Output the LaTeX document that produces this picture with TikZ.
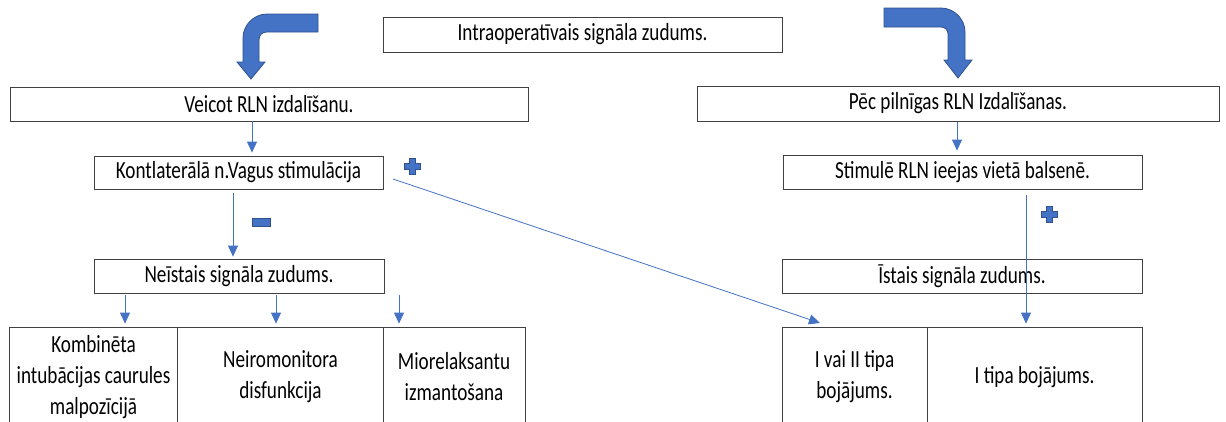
\documentclass[tikz,border=0pt]{standalone}
\usepackage{fontspec}
\setmainfont{Carlito}[FakeStretch=0.78]
\usetikzlibrary{arrows.meta,calc}
\definecolor{accentblue}{HTML}{4472C4}
\definecolor{darkblue}{HTML}{2F528F}
\begin{document}
\begin{tikzpicture}[x=1pt,y=-1pt,
  box/.style={draw=black!75, line width=0.8pt, fill=white, inner sep=0pt,
    font=\fontsize{24.6}{31}\selectfont, align=center},
  conn/.style={draw=accentblue, line width=0.8pt, -{Triangle[width=10pt,length=11pt]}},
  signfill/.style={fill=accentblue, draw=darkblue, line width=0.6pt},
  bent/.style={fill=accentblue, draw=darkblue, line width=0.8pt},
  plussign/.pic={\filldraw[signfill] (-3,-8) -- (3,-8) -- (3,-3) -- (8,-3) -- (8,3) -- (3,3) -- (3,8) -- (-3,8) -- (-3,3) -- (-8,3) -- (-8,-3) -- (-3,-3) -- cycle;},
  minussign/.pic={\filldraw[signfill] (-9,-4) rectangle (9,4);}
]
\useasboundingbox (0,0) rectangle (1226,421);

% top
\node[box, minimum width=399pt, minimum height=35pt] (top) at (582.5,34.5) {Intraoperatīvais signāla zudums.};

% bent arrows
\path[bent] (318,14) -- (267,14) .. controls (254,14) and (243,25) .. (243,38)
  -- (243,62) -- (237,62) -- (251,79) -- (265,62) -- (259,62) -- (259,40)
  .. controls (259,35) and (262,32) .. (267,32) -- (318,32) -- cycle;
\path[bent] (884,8) -- (941,8) .. controls (954,8) and (965,19) .. (965,32)
  -- (965,60) -- (972,60) -- (958,78) -- (944,60) -- (948,60) -- (948,34)
  .. controls (948,30) and (945,27) .. (941,27) -- (884,27) -- cycle;

% row 2
\node[box, minimum width=518pt, minimum height=34pt] (veicot) at (269,104) {Veicot RLN izdalīšanu.};
\node[box, minimum width=522pt, minimum height=35pt] (pec) at (958,103.5) {Pēc pilnīgas RLN Izdalīšanas.};

% row 3
\node[box, minimum width=289pt, minimum height=33pt] (kont) at (238.5,172.5) {Kontlaterālā n.Vagus stimulācija};
\node[box, minimum width=359pt, minimum height=34pt] (stim) at (962.5,172) {Stimulē RLN ieejas vietā balsenē.};

% row 4
\node[box, minimum width=290pt, minimum height=34pt] (neist) at (239,276) {Neīstais signāla zudums.};
\node[box, minimum width=360pt, minimum height=34pt] (ist) at (962,276) {Īstais signāla zudums.};

% bottom cells
\node[box, minimum width=168pt, minimum height=100pt] (komb) at (93.5,377) {Kombinēta\\intubācijas caurules\\malpozīcijā};
\node[box, minimum width=206pt, minimum height=100pt] (neiro) at (280.5,377) {Neiromonitora\\disfunkcija};
\node[box, minimum width=142pt, minimum height=100pt] (mio) at (454,377) {Miorelaksantu\\izmantošana};
\node[box, minimum width=145pt, minimum height=100pt] (ivai) at (854.5,377) {I vai II tipa\\bojājums.};
\node[box, minimum width=215pt, minimum height=100pt] (itipa) at (1034.5,377) {I tipa bojājums.};

% connectors
\coordinate (c1) at (252,121);
\draw[conn] (c1) -- ($(c1 |- kont.north)+(0,-3)$);
\coordinate (c2) at (957,122);
\draw[conn] (c2) -- ($(c2 |- stim.north)+(0,-4)$);
\coordinate (c3) at (233,193);
\draw[conn] (c3) -- ($(c3 |- neist.north)+(0,-2)$);
\coordinate (c4) at (393,179);
\coordinate (c4e) at (820,323);
\draw[conn] (c4) -- (c4e);
\coordinate (c5) at (1026,195);
\draw[conn] (c5) -- ($(c5 |- itipa.north)+(0,-3)$);
\coordinate (c6) at (125,295);
\draw[conn] (c6) -- ($(c6 |- komb.north)+(0,-3)$);
\coordinate (c7) at (276,295);
\draw[conn] (c7) -- ($(c7 |- neiro.north)+(0,-3)$);
\coordinate (c8) at (399,295);
\draw[conn] (c8) -- ($(c8 |- mio.north)+(0,-3)$);

% signs
\pic at (412,166) {plussign};
\pic at (1049,214) {plussign};
\pic at (261,222) {minussign};
\end{tikzpicture}
\end{document}
